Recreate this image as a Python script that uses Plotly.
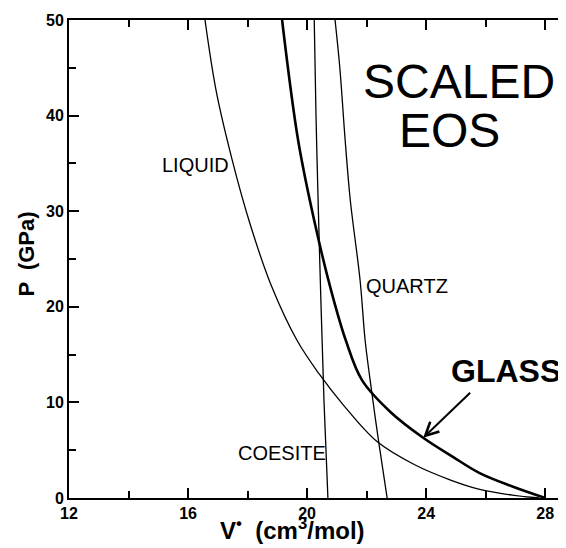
import plotly.graph_objects as go

# scaled equation-of-state curves, V* (cm3/mol) vs P (GPa)
liquid_v = [16.57, 16.95, 17.48, 18.1, 18.8, 19.66, 20.4, 21.2, 22.35, 23.6, 24.8, 25.8, 26.9, 27.8]
liquid_p = [50, 42.5, 35.4, 28.5, 22.2, 16.5, 13.0, 9.8, 5.9, 3.5, 1.9, 0.9, 0.3, 0]

glass_v = [19.16, 19.7, 20.27, 20.8, 21.3, 21.85, 22.8, 23.9, 24.9, 25.8, 26.9, 28.0]
glass_p = [50, 37.4, 28.6, 21.8, 16.5, 12.3, 9.0, 6.3, 4.3, 2.6, 1.2, 0]

coesite_v = [20.24, 20.3, 20.38, 20.47, 20.57, 20.7]
coesite_p = [50, 40, 30, 20, 10, 0]

quartz_v = [20.94, 21.1, 21.28, 21.45, 21.78, 21.95, 22.12, 22.4, 22.69]
quartz_p = [50, 45, 37.4, 31.2, 22.8, 16.5, 12.3, 6.0, 0]

x_ticks = [12, 16, 20, 24, 28]
y_ticks = [0, 10, 20, 30, 40, 50]

fig = go.Figure()
for v, p, w in [(liquid_v, liquid_p, 1.3), (coesite_v, coesite_p, 1.3),
                (quartz_v, quartz_p, 1.3), (glass_v, glass_p, 2.6)]:
    fig.add_trace(go.Scatter(x=v, y=p, mode='lines', line_shape='spline',
                             line=dict(color='black', width=w),
                             showlegend=False, hoverinfo='skip'))

lbl = dict(family='Liberation Sans', color='black')
fig.add_annotation(x=16.24, y=34.8, text='LIQUID', showarrow=False,
                   font=dict(size=20, **lbl))
fig.add_annotation(x=23.36, y=22.2, text='QUARTZ', showarrow=False,
                   font=dict(size=20, **lbl))
fig.add_annotation(x=19.16, y=4.7, text='COESITE', showarrow=False,
                   font=dict(size=20, **lbl))
fig.add_annotation(x=25.1, y=43.6, text='SCALED', showarrow=False,
                   font=dict(size=48, **lbl))
fig.add_annotation(x=24.8, y=38.4, text='EOS', showarrow=False,
                   font=dict(size=48, **lbl))
fig.add_annotation(x=26.69, y=13.3, text='<b>GLASS</b>', showarrow=False,
                   font=dict(size=32, **lbl))
# arrow pointing at the glass curve
fig.add_annotation(x=23.9, y=6.3, ax=25.58, ay=11.3, axref='x', ayref='y',
                   text=' ', showarrow=True, arrowhead=5, arrowsize=1.3,
                   arrowwidth=2, arrowcolor='black')

# axis titles
fig.add_annotation(xref='paper', yref='paper', x=(292 - 69) / 497, y=-0.1,
                   text='<b>V<sup>•</sup>  (cm<sup>3</sup>/mol)</b>', showarrow=False,
                   font=dict(size=24, family='Liberation Sans', color='black'))
fig.add_annotation(xref='paper', yref='paper', x=-0.115, y=0.51, textangle=-90,
                   text='<b>P  (GPa)</b>', showarrow=False,
                   font=dict(size=22, family='Liberation Sans', color='black'))

fig.update_xaxes(range=[12, 28.7], tickvals=x_ticks, ticks='inside', ticklen=10,
                 tickwidth=2, tickcolor='black', showline=True, linewidth=2,
                 linecolor='black', mirror='ticks', showgrid=False, zeroline=False,
                 automargin=False,
                 minor=dict(dtick=2, tick0=12, ticks='inside', ticklen=7,
                            tickwidth=2, tickcolor='black'),
                 tickfont=dict(size=16, family='Liberation Sans', color='black',
                               weight='bold'))
fig.update_yaxes(range=[0, 50], tickvals=y_ticks, ticks='inside', ticklen=10,
                 tickwidth=2, tickcolor='black', showline=True, linewidth=2,
                 linecolor='black', showgrid=False, zeroline=False,
                 automargin=False,
                 minor=dict(dtick=5, tick0=0, ticks='inside', ticklen=7,
                            tickwidth=2, tickcolor='black'),
                 tickfont=dict(size=16, family='Liberation Sans', color='black',
                               weight='bold'))

# page body has an 8px margin, so the figure is 8px smaller each way
fig.update_layout(width=558, height=540, autosize=False,
                  margin=dict(l=61, r=0, t=12, b=50),
                  paper_bgcolor='white', plot_bgcolor='white')

fig.write_html("out.html")
